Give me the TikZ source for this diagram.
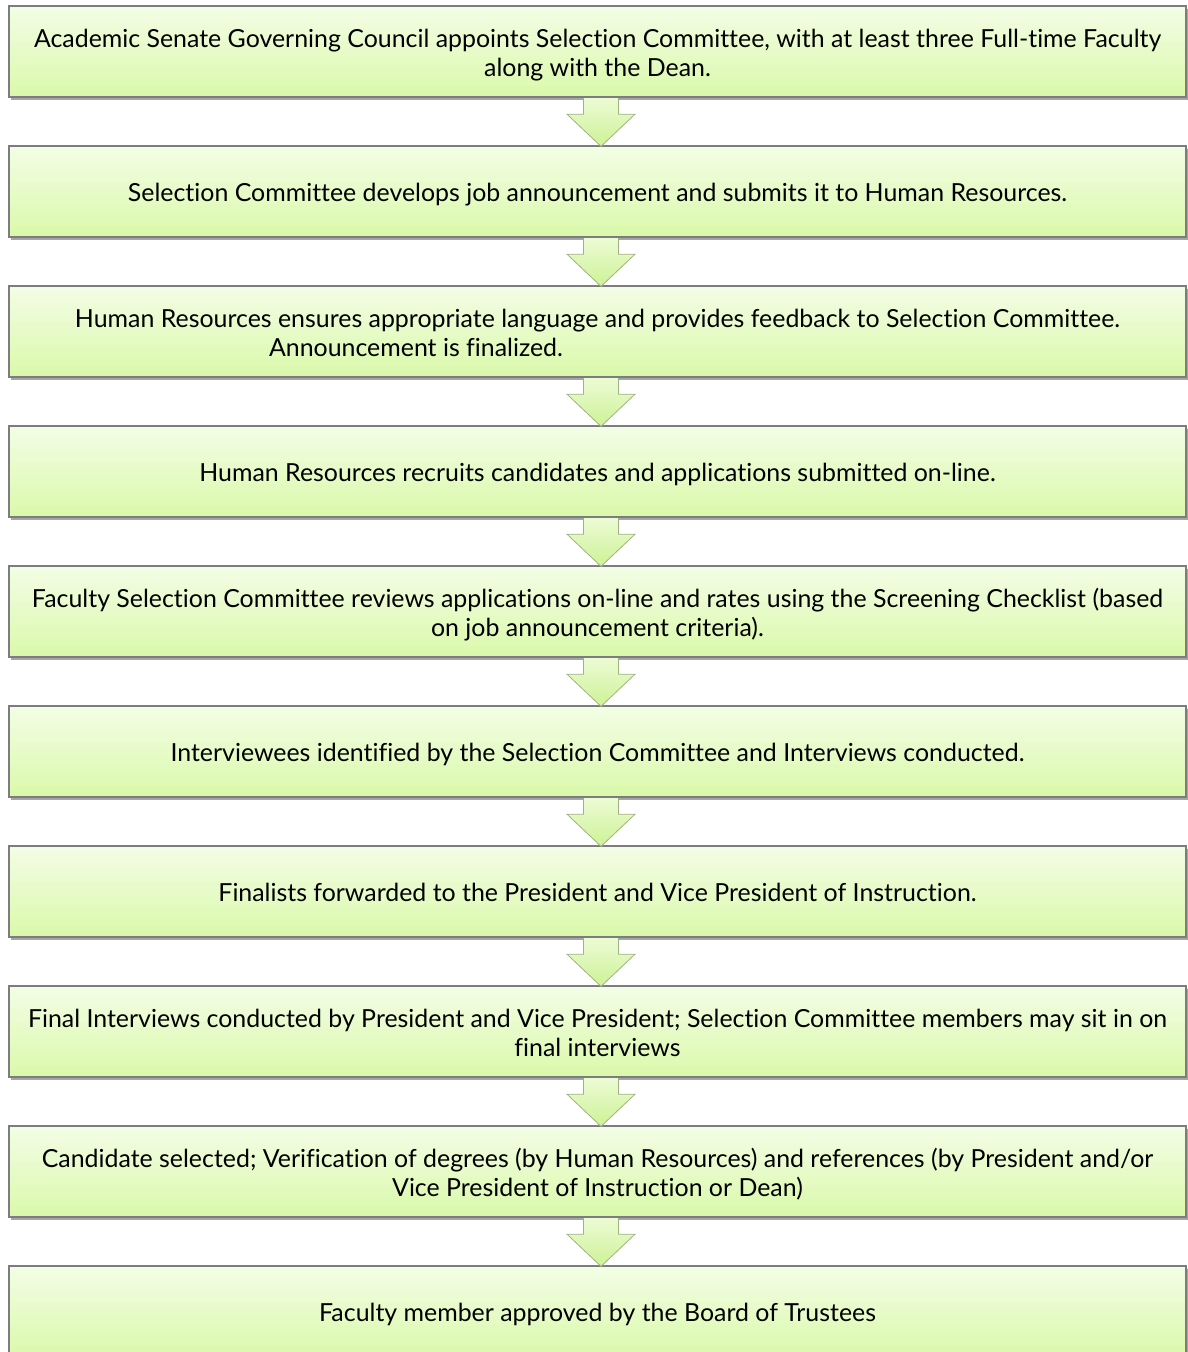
\documentclass[tikz,border=0pt]{standalone}
\usepackage{fontspec}
\setmainfont{Lato}[Ligatures=NoCommon]
\usetikzlibrary{calc,shadows}
\definecolor{boxtop}{RGB}{243,253,230}
\definecolor{boxbot}{RGB}{218,249,170}
\definecolor{boxborder}{RGB}{125,125,125}
\definecolor{arrtop}{RGB}{236,251,212}
\definecolor{arrbot}{RGB}{205,242,150}
\definecolor{arrborder}{RGB}{160,178,130}
\begin{document}
\begin{tikzpicture}[x=1pt,y=-1pt,
  stepbox/.style={draw=boxborder, line width=1.2pt, top color=boxtop, bottom color=boxbot,
    minimum width=1177pt, minimum height=91pt, inner sep=0pt, align=center,
    font=\fontsize{24.9}{29}\selectfont,
    execute at begin node={\rule{0pt}{26pt}},
    execute at end node={\rule[-6pt]{0pt}{6pt}},
    drop shadow={shadow xshift=1.5pt, shadow yshift=-3pt, opacity=0.35, fill=black}},
  twoline/.style={text height=55pt, text depth=6pt, execute at begin node={}, execute at end node={}},
  flowarrow/.style={draw=arrborder, line width=0.8pt, top color=arrtop, bottom color=arrbot}]
\useasboundingbox (0,0) rectangle (1187,1352);
\node[stepbox,twoline] (b1) at (597.5,51.5) {Academic Senate Governing Council appoints Selection Committee, with at least three Full-time Faculty\\ along with the Dean.};
\node[stepbox] (b2) at (597.5,191.5) {Selection Committee develops job announcement and submits it to Human Resources.};
\node[stepbox,twoline] (b3) at (597.5,331.5) {Human Resources ensures appropriate language and provides feedback to Selection Committee.\\ Announcement is finalized.\hspace{363pt}\null};
\node[stepbox] (b4) at (597.5,471.5) {Human Resources recruits candidates and applications submitted on-line.};
\node[stepbox,twoline] (b5) at (597.5,611.5) {Faculty Selection Committee reviews applications on-line and rates using the Screening Checklist (based\\ on job announcement criteria).};
\node[stepbox] (b6) at (597.5,751.5) {Interviewees identified by the Selection Committee and Interviews conducted.};
\node[stepbox] (b7) at (597.5,891.5) {Finalists forwarded to the President and Vice President of Instruction.};
\node[stepbox,twoline] (b8) at (597.5,1031.5) {Final Interviews conducted by President and Vice President; Selection Committee members may sit in on\\ final interviews};
\node[stepbox,twoline] (b9) at (597.5,1171.5) {Candidate selected; Verification of degrees (by Human Resources) and references (by President and/or\\ Vice President of Instruction or Dean)};
\node[stepbox] (b10) at (597.5,1311.5) {Faculty member approved by the Board of Trustees};
\foreach \a/\b in {b1/b2,b2/b3,b3/b4,b4/b5,b5/b6,b6/b7,b7/b8,b8/b9,b9/b10}{
  \path[flowarrow] ($(\a.south)+(-14,0.6)$) -- ++(0,16) -- ++(-16.5,0)
    -- ($(\b.north)+(3.5,1)$) -- ($(\a.south)+(37.5,16.6)$) -- ++(-16.5,0) -- ++(0,-16);
}
\end{tikzpicture}
\end{document}
